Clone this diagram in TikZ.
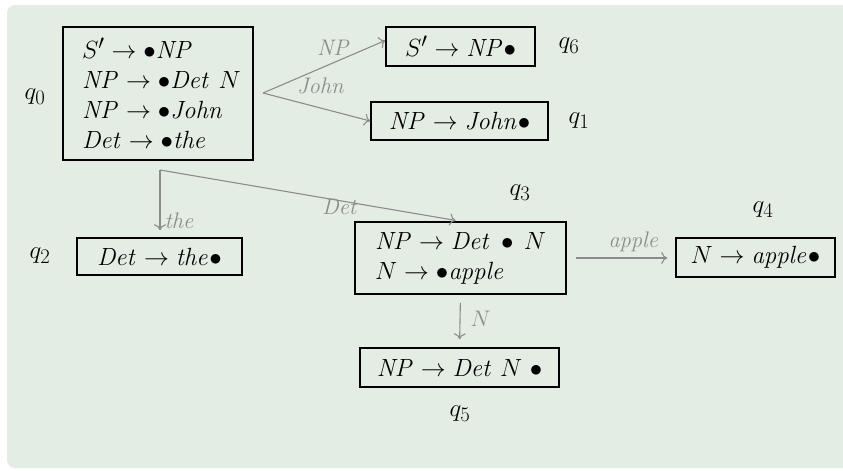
\RequirePackage{fix-cm}
\documentclass[tikz,border=0pt]{standalone}
\usetikzlibrary{arrows.meta}
\definecolor{bgfill}{HTML}{E3EDE4}
\definecolor{edgegray}{HTML}{8C8C8C}
\newcommand{\w}[1]{\mathit{#1}}
\begin{document}
\begin{tikzpicture}[x=1pt,y=-1pt,
  every node/.style={font=\fontsize{24.88}{30}\selectfont},
  itembox/.style={draw=black, line width=1.5pt, inner sep=0pt, align=center},
  statelbl/.style={inner sep=0pt},
  trans/.style={draw=edgegray, line width=1.1pt, -{To[length=6pt,width=12pt]}},
  elabel/.style={text=edgegray, inner sep=1pt, font=\fontsize{22.5}{26}\selectfont}
]
\useasboundingbox (0,0) rectangle (843,471);
\fill[bgfill, rounded corners=8pt] (7,5) rectangle (870,468);

% item sets
\node[itembox, minimum width=190pt, minimum height=133pt, text width=180pt, align=left] (q0) at (158,93.5)
  {\hspace*{14pt}$S' \rightarrow \bullet \w{NP}$\\ \hspace*{14pt}$\w{NP} \rightarrow \bullet \w{Det}\ N$\\ \hspace*{14pt}$\w{NP} \rightarrow \bullet \w{John}$\\ \hspace*{14pt}$\w{Det} \rightarrow \bullet \w{the}$};
\node[itembox, minimum width=149pt, minimum height=39pt] (q6) at (460.5,46.5) {$S' \rightarrow \w{NP}\bullet$};
\node[itembox, minimum width=177pt, minimum height=38pt] (q1) at (459.5,121) {$\w{NP} \rightarrow \w{John}\bullet$};
\node[itembox, minimum width=165pt, minimum height=37pt] (q2) at (159.5,256.5) {$\w{Det} \rightarrow \w{the}\bullet$};
\node[itembox, minimum width=211pt, minimum height=72pt, text width=171pt, align=left] (q3) at (460.5,258)
  {$\w{NP} \rightarrow \w{Det}\ \bullet\ N$\\ $N \rightarrow \bullet \w{apple}$};
\node[itembox, minimum width=159pt, minimum height=39pt] (q4) at (755.5,257.5) {$N \rightarrow \w{apple}\bullet$};
\node[itembox, minimum width=199pt, minimum height=39pt] (q5) at (459.5,367.5) {$\w{NP} \rightarrow \w{Det}\ N\ \bullet$};

% state names
\node[statelbl] (l0) at (35,97) {$q_0$};
\node[statelbl] (l6) at (569,46) {$q_6$};
\node[statelbl] (l1) at (579,121) {$q_1$};
\node[statelbl] (l2) at (40,256) {$q_2$};
\node[statelbl] (l3) at (520,193) {$q_3$};
\node[statelbl] (l4) at (763,210) {$q_4$};
\node[statelbl] (l5) at (460,414) {$q_5$};

% branch points
\coordinate (b0) at (263,93);
\coordinate (b1) at (160,170);

% transitions
\draw[trans] (b0) -- ([yshift=6pt]q6.west)
  node[elabel, pos=0.58, anchor=south, yshift=6pt] {$\w{NP}$};
\draw[trans] (b0) -- (q1.west)
  node[elabel, pos=0.58, anchor=south, yshift=14pt, xshift=-4pt] {$\w{John}$};
\draw[trans, shorten >=7pt] (b1) -- (b1 |- q2.north)
  node[elabel, pos=0.76, anchor=west, xshift=3pt] {$\w{the}$};
\draw[trans, shorten >=5pt] (b1) -- (q3.north)
  node[elabel, pos=0.6, yshift=-6pt] {$\w{Det}$};
\draw[trans, shorten <=9pt, shorten >=8pt] (q3.east) -- (q3.east -| q4.west)
  node[elabel, pos=0.62, anchor=south, yshift=5pt] {$\w{apple}$};
\draw[trans, shorten <=8pt, shorten >=8pt] (q3.south) -- (q5.north)
  node[elabel, pos=0.45, anchor=west, xshift=9pt] {$N$};
\end{tikzpicture}
\end{document}
